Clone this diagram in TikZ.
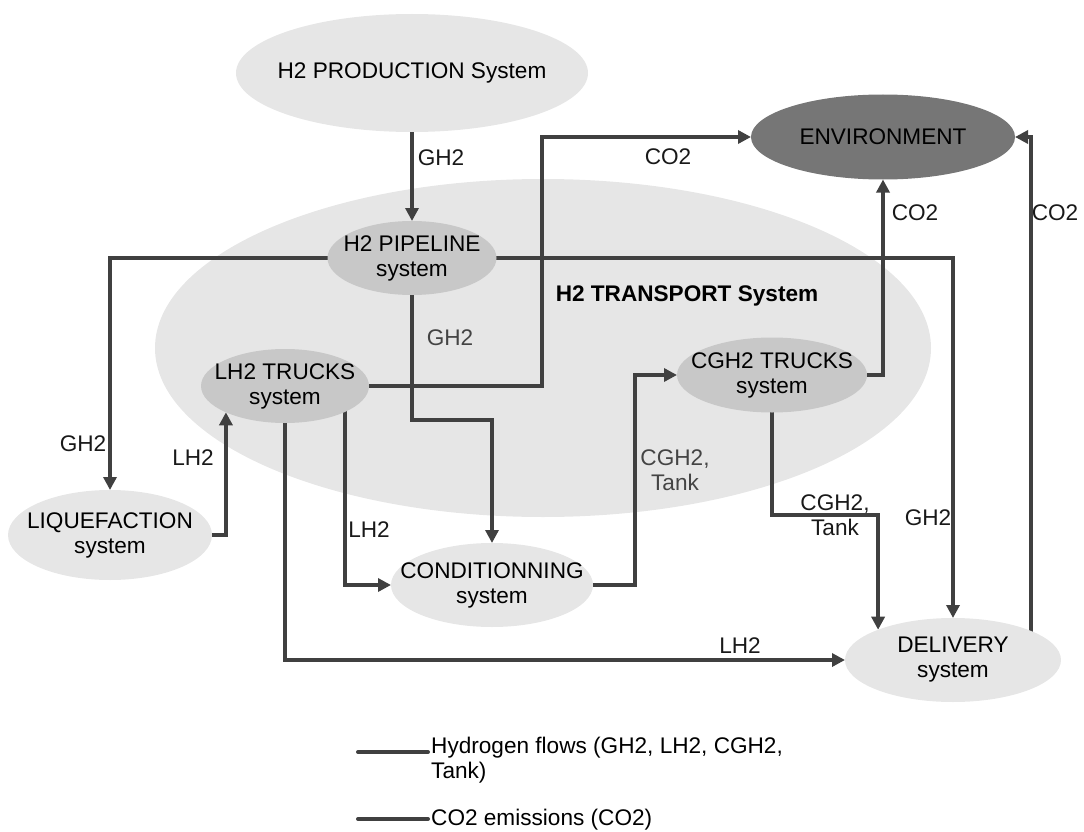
\documentclass[tikz,border=0pt]{standalone}
\usepackage{fontspec}
\setmainfont{Liberation Sans}
\usetikzlibrary{shapes.geometric,arrows.meta,calc,backgrounds}
\definecolor{lightg}{HTML}{E6E6E6}
\definecolor{midg}{HTML}{C8C8C8}
\definecolor{darkg}{HTML}{767676}
\definecolor{linec}{HTML}{404040}
\definecolor{lblgray}{HTML}{444444}
\begin{document}
\begin{tikzpicture}[x=1pt,y=-1pt,
  font=\fontsize{22.6}{25}\selectfont,
  sys/.style={ellipse, inner sep=0pt, outer sep=0pt},
  ntext/.style={align=center, text=black, inner sep=0pt},
  flow/.style={line width=4pt, draw=linec, -{Triangle[length=13pt,width=13pt]}},
  plain/.style={line width=4pt, draw=linec},
  lbl/.style={text=black!90, align=center, inner sep=0pt},
  glbl/.style={text=lblgray, align=center, inner sep=0pt}]
\useasboundingbox (0,0) rectangle (1084,832);

% system nodes
\node[sys, fill=lightg, minimum width=352pt, minimum height=118pt,
  label={[ntext]center:H2 PRODUCTION System}] (prod) at (412,73) {};
\node[sys, fill=darkg, minimum width=264pt, minimum height=85pt,
  label={[ntext]center:ENVIRONMENT}] (env) at (883,137) {};
\node[sys, fill=midg, minimum width=169pt, minimum height=74pt,
  label={[ntext]center:H2 PIPELINE\\system}] (pipe) at (412,258) {};
\node[sys, fill=midg, minimum width=168pt, minimum height=74pt,
  label={[ntext]center:LH2 TRUCKS\\system}] (lh2) at (285,386) {};
\node[sys, fill=midg, minimum width=190pt, minimum height=75pt,
  label={[ntext]center:CGH2 TRUCKS\\system}] (cgh2) at (772,375) {};
\node[sys, fill=lightg, minimum width=204pt, minimum height=90pt,
  label={[ntext]center:LIQUEFACTION\\system}] (liq) at (110,535) {};
\node[sys, fill=lightg, minimum width=202pt, minimum height=84pt,
  label={[ntext]center:CONDITIONNING\\system}] (cond) at (492,585) {};
\node[sys, fill=lightg, minimum width=216pt, minimum height=84pt,
  label={[ntext]center:DELIVERY\\system}] (deliv) at (953,660) {};

\begin{scope}[on background layer]
  \node[sys, fill=lightg, minimum width=776pt, minimum height=338pt] (trans) at (543,348) {};
  \draw[flow] (prod.south) -- (pipe.north);
  \draw[flow] (pipe.center) -| (liq.north);
  \draw[flow] (pipe.center) -| (deliv.north);
  \draw[flow] (pipe.center) -- ++(0,162) -| (cond.north);
  \draw[flow] (liq.center) -| (lh2.204);
  \draw[flow] (lh2.center) -- ++(257,0) |- (env.west);
  \draw[flow] ($(lh2.center)+(60,0)$) |- (cond.west);
  \draw[flow] (lh2.center) |- (deliv.west);
  \draw[flow] (cond.center) -- ++(143,0) |- (cgh2.west);
  \draw[flow] (cgh2.center) -| (env.south);
  \draw[flow] (cgh2.center) -- ++(0,140) -| (deliv.158);
  \draw[flow] ($(deliv.center)+(78,0)$) |- (env.east);
\end{scope}

% flow labels
\node[font=\fontsize{22.6}{25}\selectfont\bfseries, ntext] (ttl) at (687,296) {H2 TRANSPORT System};
\node[lbl] (l1) at (441,158) {GH2};
\node[lbl] (l2) at (83,444) {GH2};
\node[lbl] (l3) at (193,458) {LH2};
\node[lbl] (l4) at (369,530) {LH2};
\node[glbl] (l5) at (450,338) {GH2};
\node[lbl] (l6) at (668,157) {CO2};
\node[lbl] (l7) at (915,213) {CO2};
\node[lbl] (l8) at (1055,213) {CO2};
\node[glbl] (l9) at (675,470) {CGH2,\\Tank};
\node[lbl] (l10) at (835,515) {CGH2,\\Tank};
\node[lbl] (l11) at (928,518) {GH2};
\node[lbl] (l12) at (740,646) {LH2};

% legend
\coordinate (lga) at (358,752);
\coordinate (lgb) at (428,752);
\coordinate (lgc) at (358,819);
\coordinate (lgd) at (428,819);
\draw[plain, line cap=round] (lga) -- (lgb);
\draw[plain, line cap=round] (lgc) -- (lgd);
\node[anchor=west, align=left, inner sep=0pt, text=black] (lgt1) at (431,760) {Hydrogen flows (GH2, LH2, CGH2,\\Tank)};
\node[anchor=west, inner sep=0pt, text=black] (lgt2) at (431,820) {CO2 emissions (CO2)};
\end{tikzpicture}
\end{document}
